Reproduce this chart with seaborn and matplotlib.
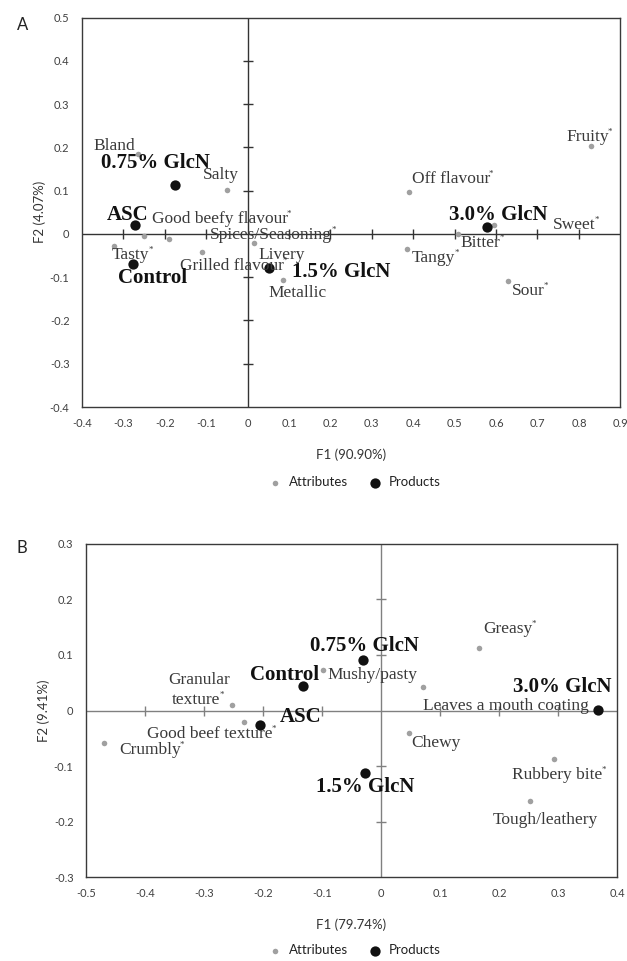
import numpy as np
import pandas as pd
import matplotlib
matplotlib.use("Agg")
import matplotlib.pyplot as plt
import seaborn as sns
from matplotlib.ticker import FuncFormatter

sns.set_theme(style="white")
plt.rcParams["font.family"] = ["Lato", "DejaVu Sans"]

# ---------------- data: panel A (flavour) ----------------
a_attr_names = ["Bland", "Salty", "Good beefy flavour", "Spices/Seasoning", "Livery",
                "Tasty", "Grilled flavour", "Metallic", "Off flavour", "Fruity",
                "Sweet", "Bitter", "Tangy", "Sour"]
a_attr_star = [False, False, True, True, False, True, True, False, True, True,
               True, True, True, True]
a_attr_f1 = [-0.265, -0.050, -0.250, -0.189, 0.016, -0.322, -0.110, 0.085, 0.389, 0.830,
             0.594, 0.507, 0.385, 0.630]
a_attr_f2 = [0.185, 0.102, -0.006, -0.012, -0.022, -0.027, -0.042, -0.107, 0.096, 0.202,
             0.021, 0.000, -0.035, -0.109]

products = ["Control", "ASC", "0.75% GlcN", "1.5% GlcN", "3.0% GlcN"]
a_prod_f1 = [-0.276, -0.271, -0.176, 0.051, 0.579]
a_prod_f2 = [-0.069, 0.021, 0.112, -0.078, 0.017]

# ---------------- data: panel B (texture) ----------------
b_attr_names = ["Crumbly", "Granular texture", "Good beef texture", "Mushy/pasty",
                "Leaves a mouth coating", "Chewy", "Greasy", "Rubbery bite", "Tough/leathery"]
b_attr_star = [True, True, True, False, False, False, True, True, False]
b_attr_f1 = [-0.469, -0.253, -0.232, -0.098, 0.071, 0.048, 0.166, 0.294, 0.253]
b_attr_f2 = [-0.059, 0.009, -0.021, 0.073, 0.043, -0.041, 0.112, -0.087, -0.162]
b_prod_f1 = [-0.133, -0.205, -0.030, -0.027, 0.368]
b_prod_f2 = [0.044, -0.026, 0.090, -0.113, 0.001]

# axis settings
a_xlabel, a_ylabel = "F1 (90.90%)", "F2 (4.07%)"
b_xlabel, b_ylabel = "F1 (79.74%)", "F2 (9.41%)"
a_xlim, a_ylim = (-0.4, 0.9), (-0.4, 0.5)
b_xlim, b_ylim = (-0.5, 0.4), (-0.3, 0.3)

# ---------------- label layout (left edge, vertical centre) ----------------
a_attr_lab = {
    "Bland": [("Bland", -0.373, 0.204)],
    "Salty": [("Salty", -0.109, 0.135)],
    "Good beefy flavour": [("Good beefy flavour", -0.232, 0.034)],
    "Spices/Seasoning": [("Spices/Seasoning", -0.091, -0.002)],
    "Livery": [("Livery", 0.026, -0.048)],
    "Tasty": [("Tasty", -0.329, -0.048)],
    "Grilled flavour": [("Grilled flavour", -0.164, -0.075)],
    "Metallic": [("Metallic", 0.050, -0.137)],
    "Off flavour": [("Off flavour", 0.396, 0.126)],
    "Fruity": [("Fruity", 0.769, 0.223)],
    "Sweet": [("Sweet", 0.738, 0.021)],
    "Bitter": [("Bitter", 0.514, -0.021)],
    "Tangy": [("Tangy", 0.396, -0.056)],
    "Sour": [("Sour", 0.638, -0.131)],
}
a_prod_lab = {
    "Control": (-0.313, -0.102), "ASC": (-0.341, 0.044), "0.75% GlcN": (-0.353, 0.163),
    "1.5% GlcN": (0.106, -0.087), "3.0% GlcN": (0.486, 0.044),
}
b_attr_lab = {
    "Crumbly": [("Crumbly", -0.444, -0.071)],
    "Granular texture": [("Granular", -0.360, 0.055), ("texture", -0.355, 0.019)],
    "Good beef texture": [("Good beef texture", -0.397, -0.043)],
    "Mushy/pasty": [("Mushy/pasty", -0.090, 0.064)],
    "Leaves a mouth coating": [("Leaves a mouth coating", 0.072, 0.008)],
    "Chewy": [("Chewy", 0.052, -0.059)],
    "Greasy": [("Greasy", 0.173, 0.146)],
    "Rubbery bite": [("Rubbery bite", 0.222, -0.116)],
    "Tough/leathery": [("Tough/leathery", 0.190, -0.197)],
}
b_prod_lab = {
    "Control": (-0.222, 0.064), "ASC": (-0.171, -0.011), "0.75% GlcN": (-0.120, 0.116),
    "1.5% GlcN": (-0.110, -0.137), "3.0% GlcN": (0.224, 0.043),
}

SERIF = ["Liberation Serif", "DejaVu Serif"]
ATTR_COL = "#a0a0a0"
FRAME_COL = "#3a3a3a"
TICK_COL = "#404040"

fig = plt.figure(figsize=(6.27, 9.61), dpi=100)
W, H = 627.0, 961.0
axA = fig.add_axes([82 / W, 1 - 407 / H, (620.3 - 82) / W, (407 - 17.5) / H])
axB = fig.add_axes([86 / W, 1 - 877.3 / H, (617 - 86) / W, (877.3 - 543.7) / H])


def fmt(v, _):
    return "0" if abs(v) < 1e-9 else f"{v:.1f}"


def draw_panel(ax, xlim, ylim, attr_names, attr_star, af1, af2, pf1, pf2,
               attr_lab, prod_lab, xlabel, ylabel, zero_col, legend_y):
    xt = np.round(np.arange(xlim[0], xlim[1] + 1e-9, 0.1), 1)
    yt = np.round(np.arange(ylim[0], ylim[1] + 1e-9, 0.1), 1)
    ax.set_xlim(*xlim)
    ax.set_ylim(*ylim)
    ax.set_xticks(xt)
    ax.set_yticks(yt)
    ax.xaxis.set_major_formatter(FuncFormatter(fmt))
    ax.yaxis.set_major_formatter(FuncFormatter(fmt))
    ax.tick_params(length=0, labelsize=8, colors=TICK_COL)
    ax.tick_params(axis="x", pad=8)
    ax.tick_params(axis="y", pad=9)
    for sp in ax.spines.values():
        sp.set_color(FRAME_COL)
        sp.set_linewidth(1.0)
        sp.set_visible(True)

    # internal zero axes with cross ticks
    ax.axhline(0, color=zero_col, lw=1.0, zorder=1)
    ax.axvline(0, color=zero_col, lw=1.0, zorder=1)
    xin = xt[(xt > xlim[0] + 1e-9) & (xt < xlim[1] - 1e-9) & (np.abs(xt) > 1e-9)]
    yin = yt[(yt > ylim[0] + 1e-9) & (yt < ylim[1] - 1e-9) & (np.abs(yt) > 1e-9)]
    ax.plot(xin, np.zeros_like(xin), ls="none", marker="|", ms=6.5, mew=1.0,
            color=zero_col, zorder=1)
    ax.plot(np.zeros_like(yin), yin, ls="none", marker="_", ms=6.5, mew=1.0,
            color=zero_col, zorder=1)

    dfa = pd.DataFrame({"F1": af1, "F2": af2, "name": attr_names})
    dfp = pd.DataFrame({"F1": pf1, "F2": pf2, "name": products})
    sns.scatterplot(data=dfa, x="F1", y="F2", color=ATTR_COL, s=16, linewidth=0,
                    label="Attributes", ax=ax, zorder=3)
    sns.scatterplot(data=dfp, x="F1", y="F2", color="#111111", s=55, linewidth=0,
                    label="Products", ax=ax, zorder=4)

    for name, star in zip(attr_names, attr_star):
        pieces = attr_lab[name]
        t = None
        for txt, lx, ly in pieces:
            t = ax.text(lx, ly, txt, family=SERIF, fontsize=12.5, color="#3a3a3a",
                        ha="left", va="center", zorder=5)
        if star:
            ax.annotate("*", xy=(1, 1), xycoords=t, xytext=(-0.6, 0.8),
                        textcoords="offset points", ha="left", va="top",
                        family=SERIF, fontsize=6.5, color="#3a3a3a", zorder=5)
    for name in products:
        lx, ly = prod_lab[name]
        ax.text(lx, ly, name, family=SERIF, fontsize=15, fontweight="bold",
                color="#111111", ha="left", va="center", zorder=5)

    ax.set_xlabel(xlabel, fontsize=9.5, color="#333333", labelpad=14)
    ax.set_ylabel(ylabel, fontsize=9.5, color="#333333", labelpad=3)
    ax.legend(loc="center", bbox_to_anchor=(0.56, legend_y), bbox_transform=fig.transFigure,
              ncol=2, frameon=False, fontsize=9.5, handletextpad=0.05,
              columnspacing=1.0, labelcolor="#222222")


draw_panel(axA, a_xlim, a_ylim, a_attr_names, a_attr_star, a_attr_f1, a_attr_f2,
           a_prod_f1, a_prod_f2, a_attr_lab, a_prod_lab, a_xlabel, a_ylabel,
           "#333333", 1 - 482 / H)
draw_panel(axB, b_xlim, b_ylim, b_attr_names, b_attr_star, b_attr_f1, b_attr_f2,
           b_prod_f1, b_prod_f2, b_attr_lab, b_prod_lab, b_xlabel, b_ylabel,
           "#808080", 1 - 950 / H)

fig.text(22.7 / W, 1 - 25 / H, "A", fontsize=12, color="#222222", ha="center", va="center")
fig.text(22.0 / W, 1 - 548 / H, "B", fontsize=12, color="#222222", ha="center", va="center")

fig.savefig("out.png", dpi=100)
